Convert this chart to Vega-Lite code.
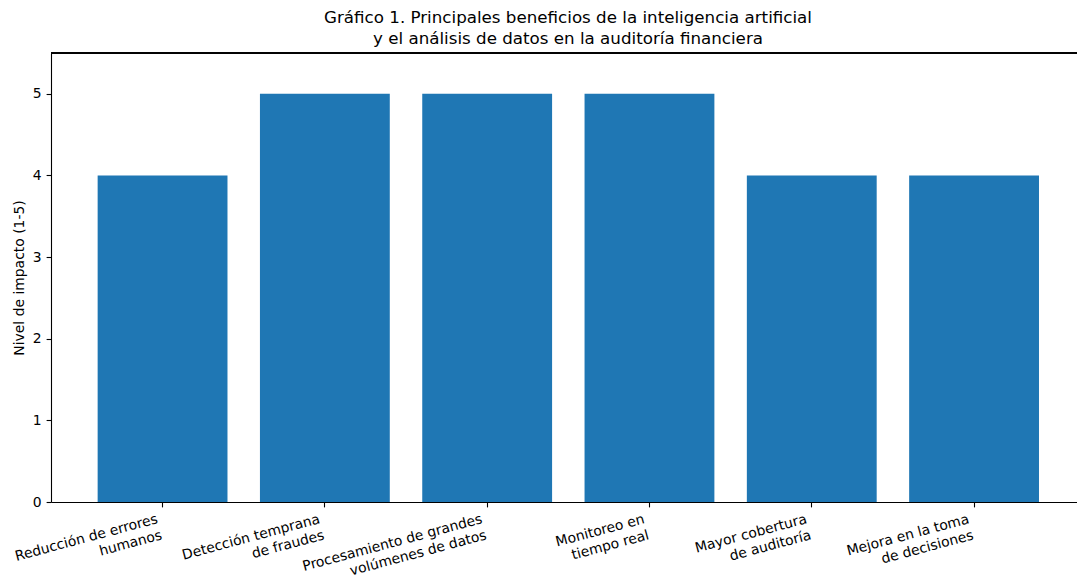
{
  "$schema": "https://vega.github.io/schema/vega-lite/v6.json",
  "width": 1026,
  "height": 449,
  "autosize": {"type": "none"},
  "padding": {"left": 51, "top": 53, "right": 0, "bottom": 73},
  "background": "white",
  "title": {
    "text": ["Gráfico 1. Principales beneficios de la inteligencia artificial", "y el análisis de datos en la auditoría financiera"],
    "font": "DejaVu Sans",
    "fontSize": 16.7,
    "fontWeight": "normal",
    "color": "black",
    "lineHeight": 21,
    "offset": 5,
    "dx": 4
  },
  "config": {
    "view": {"stroke": null},
    "axis": {
      "grid": false,
      "domainColor": "black",
      "domainWidth": 1.1,
      "tickColor": "black",
      "tickWidth": 1.1,
      "tickSize": 4.9,
      "labelPadding": 4.9,
      "labelFont": "DejaVu Sans",
      "labelFontSize": 13.9,
      "labelColor": "black",
      "labelLimit": 0,
      "titleFont": "DejaVu Sans",
      "titleFontSize": 13.9,
      "titleFontWeight": "normal",
      "titleColor": "black"
    }
  },
  "data": {
    "values": [
      {"beneficio": "Reducción de errores\nhumanos", "impacto": 4},
      {"beneficio": "Detección temprana\nde fraudes", "impacto": 5},
      {"beneficio": "Procesamiento de grandes\nvolúmenes de datos", "impacto": 5},
      {"beneficio": "Monitoreo en\ntiempo real", "impacto": 5},
      {"beneficio": "Mayor cobertura\nde auditoría", "impacto": 4},
      {"beneficio": "Mejora en la toma\nde decisiones", "impacto": 4}
    ]
  },
  "layer": [
    {
      "mark": {"type": "bar", "color": "#1f77b4"},
      "encoding": {
        "x": {
          "field": "beneficio",
          "type": "nominal",
          "sort": null,
          "scale": {"paddingInner": 0.2, "paddingOuter": 0.2608, "align": 0.551},
          "axis": {
            "title": null,
            "labelAngle": -15,
            "labelAlign": "right",
            "labelBaseline": "top",
            "labelOffset": -7,
            "labelLineHeight": 16.7,
            "labelExpr": "split(datum.label, '\\n')"
          }
        },
        "y": {
          "field": "impacto",
          "type": "quantitative",
          "scale": {"domain": [0, 5.5], "nice": false, "zero": true},
          "axis": {
            "title": "Nivel de impacto (1-5)",
            "values": [0, 1, 2, 3, 4, 5],
            "format": "d",
            "titlePadding": 5.6
          }
        }
      }
    },
    {
      "mark": {"type": "rule", "color": "black", "strokeWidth": 1.1},
      "encoding": {"y": {"datum": 5.5}}
    }
  ]
}
